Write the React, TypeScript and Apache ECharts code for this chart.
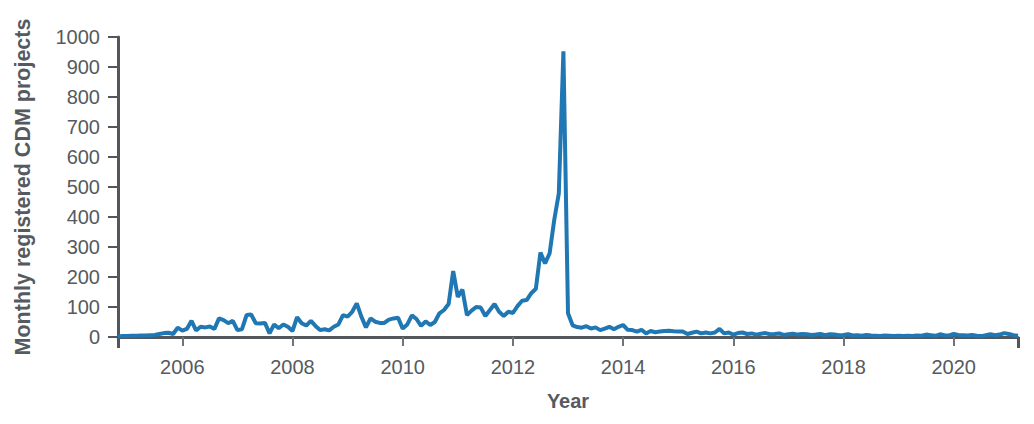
import React, { useEffect, useRef } from "react";
import * as echarts from "echarts";

// Monthly series starts November 2004 (month index 10, zero-based)
const startYear = 2004;
const startMonth = 10;

// Monthly registered CDM projects, Nov 2004 .. Mar 2021
const monthlyRegistrations: number[] = [
  2, 3, 3, 4, 4, 5, 5, 6, 7, 10, 13, 14,
  10, 31, 21, 27, 54, 22, 34, 32, 35, 27, 62, 56,
  46, 54, 23, 26, 73, 75, 46, 45, 47, 12, 42, 29,
  42, 34, 20, 66, 46, 38, 54, 37, 23, 26, 22, 34,
  42, 73, 68, 84, 112, 68, 32, 62, 51, 47, 47, 58,
  62, 64, 28, 42, 72, 60, 37, 52, 40, 50, 79, 90,
  110, 220, 134, 158, 73, 88, 100, 98, 70, 90, 110, 84,
  70, 84, 80, 103, 121, 123, 146, 161, 282, 245, 279, 390,
  479, 952, 79, 39, 33, 31, 36, 28, 32, 23, 28, 34,
  26, 34, 40, 24, 23, 18, 24, 12, 20, 16, 18, 20,
  21, 19, 18, 18, 10, 14, 18, 12, 15, 12, 15, 27,
  12, 15, 8, 13, 15, 10, 12, 8, 11, 13, 9, 10,
  12, 7, 9, 11, 8, 10, 9, 7, 8, 10, 6, 9,
  8, 6, 7, 9, 5, 6, 4, 7, 5, 4, 3, 5,
  4, 3, 4, 3, 4, 3, 5, 4, 8, 6, 4, 9,
  6, 5, 10, 7, 6, 5, 7, 4, 3, 6, 9, 6,
  8, 13, 10, 6, 4,
];

const yearTicks = [2006, 2008, 2010, 2012, 2014, 2016, 2018, 2020];
const xMin = 2004 + 10 / 12;
const xMax = 2021 + 2 / 12;

const textColor = "#555a60";
const axisColor = "#53575c";
const fontFamily = "'Liberation Sans', Arial, Helvetica, sans-serif";

export default function App() {
  const ref = useRef<HTMLDivElement>(null);

  useEffect(() => {
    document.body.style.margin = "0";
    if (!ref.current) return;
    const chart = echarts.init(ref.current, undefined, { renderer: "svg" });

    const data = monthlyRegistrations.map((v, i) => [
      startYear + (startMonth + i) / 12,
      v,
    ]);

    chart.setOption({
      animation: false,
      textStyle: { fontFamily },
      grid: {
        left: 118,
        right: 16,
        top: 37,
        bottom: 87,
        outerBoundsMode: "none",
      },
      xAxis: [
        {
          type: "value",
          min: xMin,
          max: xMax,
          name: "Year",
          nameLocation: "middle",
          nameGap: 54,
          nameTextStyle: {
            fontSize: 20,
            fontWeight: "bold",
            color: textColor,
            fontFamily,
          },
          axisLine: { show: true, lineStyle: { color: axisColor, width: 3 } },
          axisTick: {
            show: true,
            customValues: yearTicks,
            length: 9,
            lineStyle: { color: "#707478", width: 2 },
          },
          axisLabel: {
            customValues: yearTicks,
            formatter: (v: number) => String(Math.round(v)),
            fontSize: 20,
            color: textColor,
            margin: 20,
            fontFamily,
          },
          splitLine: { show: false },
        },
        {
          type: "value",
          min: xMin,
          max: xMax,
          position: "bottom",
          axisLine: { show: false },
          axisTick: {
            show: true,
            customValues: [xMin, xMax],
            length: 11,
            lineStyle: { color: axisColor, width: 3 },
          },
          axisLabel: { show: false },
          splitLine: { show: false },
        },
      ],
      yAxis: {
        type: "value",
        min: 0,
        max: 1000,
        interval: 100,
        name: "Monthly registered CDM projects",
        nameLocation: "middle",
        nameGap: 84,
        nameTextStyle: {
          fontSize: 21.5,
          fontWeight: "bold",
          color: textColor,
          fontFamily,
        },
        axisLine: { show: true, lineStyle: { color: axisColor, width: 3 } },
        axisTick: {
          show: true,
          length: 10,
          lineStyle: { color: axisColor, width: 2 },
        },
        axisLabel: {
          fontSize: 20,
          color: textColor,
          margin: 18,
          fontFamily,
          formatter: (v: number) => String(v),
        },
        splitLine: { show: false },
      },
      series: [
        {
          type: "line",
          xAxisIndex: 0,
          data,
          showSymbol: false,
          symbol: "none",
          lineStyle: { color: "#1f77b4", width: 4 },
          z: 5,
        },
      ],
    });

    return () => chart.dispose();
  }, []);

  return <div ref={ref} style={{ width: 1034, height: 424 }} />;
}
